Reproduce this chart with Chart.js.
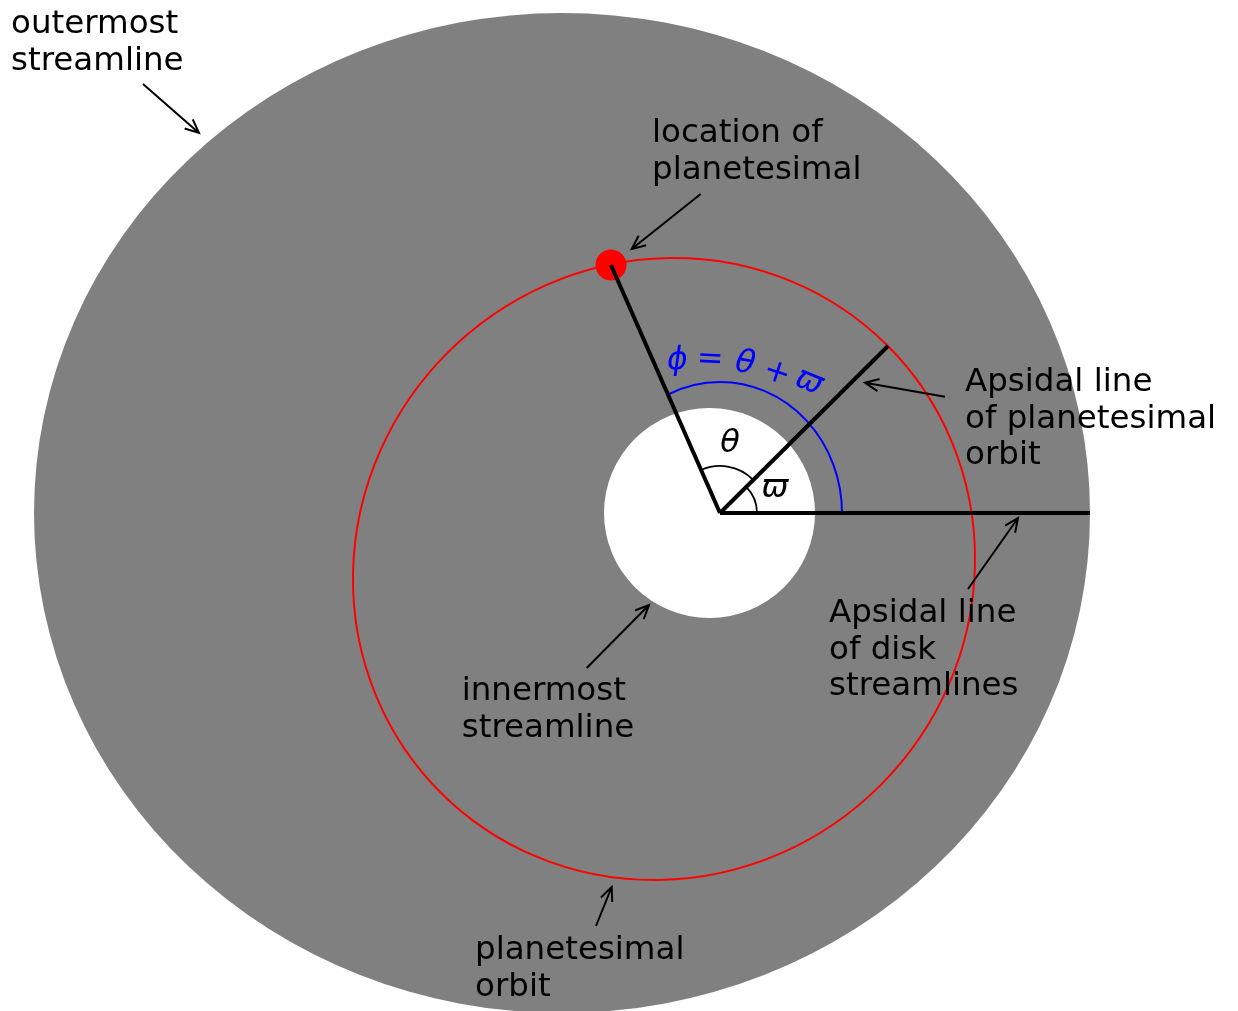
<!DOCTYPE html>
<html>
<head>
<meta charset="utf-8">
<script src="https://cdn.jsdelivr.net/npm/chart.js@4.4.1/dist/chart.umd.min.js"></script>
<style>
  html, body { margin: 0; padding: 0; background: #fff; }
  canvas { display: block; }
</style>
</head>
<body>
<canvas id="orbitChart" width="1238" height="1011"></canvas>
<script>
// frame: origin at the star (focus), y up, 1 unit ~ 1 px
const ellipseNames   = ['outermost streamline', 'innermost streamline', 'planetesimal orbit'];
const ellipseCenterX = [-158, -10.5, -56];
const ellipseCenterY = [0, 0, -56];
const ellipseSemiX   = [528, 105.5, 316];
const ellipseSemiY   = [500, 105, 306];
const ellipseTiltDeg = [0, 0, 45];

const planetPos      = [-109, 248];   // location of planetesimal
const diskApsidal    = [370, 0];      // apsidal line of disk streamlines
const orbitApsidal   = [168, 167];    // apsidal line of planetesimal orbit
const varpiDeg = 45;
const phiDeg   = 113.7;

const labelTexts = [
  ['outermost', 'streamline'],
  ['location of', 'planetesimal'],
  ['Apsidal line', 'of planetesimal', 'orbit'],
  ['Apsidal line', 'of disk', 'streamlines'],
  ['innermost', 'streamline'],
  ['planetesimal', 'orbit']
];
const labelAnchors = [[-709, 480], [-68, 371.3], [245, 122.3], [109, -108.7], [-258.3, -187], [-245, -446]];
const arrowFrom = [[-577, 429], [-19.3, 319], [225, 116.3], [248, -76], [-133.3, -155], [-124, -413]];
const arrowTo   = [[-521, 380], [-88.3, 264], [145, 130.3], [298, -5], [-71, -92], [-108.3, -374]];

// curved label phi = theta + varpi
const phiGlyphs  = ['\u03D5', '=', '\u03B8', '+', '\u03D6'];
const phiGlyphAt = [[-42.7, 152], [-10, 153], [25, 149], [56.7, 139.5], [89, 131]];
const phiGlyphRot = [-3, 3, 10, 18, 22];

const deg = Math.PI / 180;

function drawArrow(ctx, x1, y1, x2, y2) {
  const a = Math.atan2(y2 - y1, x2 - x1);
  const L = 15, h = 24 * deg;
  ctx.beginPath();
  ctx.moveTo(x1, y1);
  ctx.lineTo(x2, y2);
  ctx.moveTo(x2 - L * Math.cos(a - h), y2 - L * Math.sin(a - h));
  ctx.lineTo(x2, y2);
  ctx.lineTo(x2 - L * Math.cos(a + h), y2 - L * Math.sin(a + h));
  ctx.stroke();
}

const diagramPlugin = {
  id: 'diagram',
  beforeDatasetsDraw(chart) {
    const { ctx, scales: { x, y } } = chart;
    const lenX = d => Math.abs(x.getPixelForValue(d) - x.getPixelForValue(0));
    const lenY = d => Math.abs(y.getPixelForValue(d) - y.getPixelForValue(0));
    const ell = i => {
      ctx.beginPath();
      ctx.ellipse(x.getPixelForValue(ellipseCenterX[i]), y.getPixelForValue(ellipseCenterY[i]),
        lenX(ellipseSemiX[i]), lenY(ellipseSemiY[i]), -ellipseTiltDeg[i] * deg, 0, 2 * Math.PI);
    };
    ctx.save();
    ell(0); ctx.fillStyle = '#808080'; ctx.fill();
    ell(1); ctx.fillStyle = '#ffffff'; ctx.fill();
    ell(2); ctx.strokeStyle = '#ff0000'; ctx.lineWidth = 2; ctx.stroke();

    const ox = x.getPixelForValue(0), oy = y.getPixelForValue(0);
    // blue arc for phi (slightly elliptical, as in the figure)
    const brx = lenX(122), bry = lenY(131);
    const tEnd = Math.atan2(brx * Math.sin(phiDeg * deg), bry * Math.cos(phiDeg * deg));
    ctx.beginPath();
    ctx.ellipse(ox, oy, brx, bry, 0, 0, -tEnd, true);
    ctx.strokeStyle = '#0000ff'; ctx.lineWidth = 2; ctx.stroke();
    // theta arc
    ctx.beginPath();
    ctx.arc(ox, oy, lenX(47), -varpiDeg * deg, -phiDeg * deg, true);
    ctx.strokeStyle = '#000'; ctx.lineWidth = 1.8; ctx.stroke();
    // varpi arc
    ctx.beginPath();
    ctx.arc(ox, oy, lenX(37), 0, -varpiDeg * deg, true);
    ctx.stroke();
    ctx.restore();
  },
  afterDatasetsDraw(chart) {
    const { ctx, scales: { x, y } } = chart;
    ctx.save();
    ctx.fillStyle = '#000';
    ctx.font = '32.5px "DejaVu Sans"';
    ctx.textAlign = 'left';
    ctx.textBaseline = 'alphabetic';
    labelTexts.forEach((lines, i) => {
      const lx = x.getPixelForValue(labelAnchors[i][0]);
      const ly = y.getPixelForValue(labelAnchors[i][1]);
      lines.forEach((t, k) => ctx.fillText(t, lx, ly + k * 36.8));
    });
    ctx.strokeStyle = '#000';
    ctx.lineWidth = 2;
    arrowFrom.forEach((f, i) => {
      drawArrow(ctx, x.getPixelForValue(f[0]), y.getPixelForValue(f[1]),
        x.getPixelForValue(arrowTo[i][0]), y.getPixelForValue(arrowTo[i][1]));
    });

    // angle symbols
    ctx.textAlign = 'center';
    ctx.textBaseline = 'middle';
    ctx.font = 'italic 32px "DejaVu Sans"';
    ctx.fillText('\u03B8', x.getPixelForValue(10), y.getPixelForValue(69));
    ctx.fillText('\u03D6', x.getPixelForValue(55), y.getPixelForValue(24.7));

    ctx.fillStyle = '#0000ff';
    phiGlyphs.forEach((g, i) => {
      ctx.save();
      ctx.translate(x.getPixelForValue(phiGlyphAt[i][0]), y.getPixelForValue(phiGlyphAt[i][1]));
      ctx.rotate(phiGlyphRot[i] * deg);
      ctx.font = (g === '=' || g === '+') ? '32px "DejaVu Sans"' : 'italic 32px "DejaVu Sans"';
      ctx.fillText(g, 0, 0);
      ctx.restore();
    });
    ctx.restore();
  }
};

const lineStyle = {
  showLine: true,
  borderColor: '#000',
  borderWidth: 4,
  pointRadius: 0,
  borderCapStyle: 'butt',
  borderJoinStyle: 'miter',
  order: 1
};

new Chart(document.getElementById('orbitChart').getContext('2d'), {
  type: 'scatter',
  data: {
    datasets: [
      Object.assign({ label: 'to planetesimal', data: [{ x: 0, y: 0 }, { x: planetPos[0], y: planetPos[1] }] }, lineStyle),
      Object.assign({ label: 'orbit apsidal line', data: [{ x: 0, y: 0 }, { x: orbitApsidal[0], y: orbitApsidal[1] }] }, lineStyle),
      Object.assign({ label: 'disk apsidal line', data: [{ x: 0, y: 0 }, { x: diskApsidal[0], y: diskApsidal[1] }] }, lineStyle),
      {
        label: 'planetesimal',
        data: [{ x: planetPos[0], y: planetPos[1] }],
        pointRadius: 15.5,
        pointBackgroundColor: '#ff0000',
        pointBorderWidth: 0,
        order: 2
      }
    ]
  },
  options: {
    responsive: false,
    devicePixelRatio: 1,
    animation: false,
    clip: false,
    layout: { padding: 0, autoPadding: false },
    plugins: {
      legend: { display: false },
      tooltip: { enabled: false }
    },
    scales: {
      x: { type: 'linear', min: -720, max: 518, display: false },
      y: { type: 'linear', min: -498, max: 513, display: false }
    }
  },
  plugins: [diagramPlugin]
});
</script>
</body>
</html>
